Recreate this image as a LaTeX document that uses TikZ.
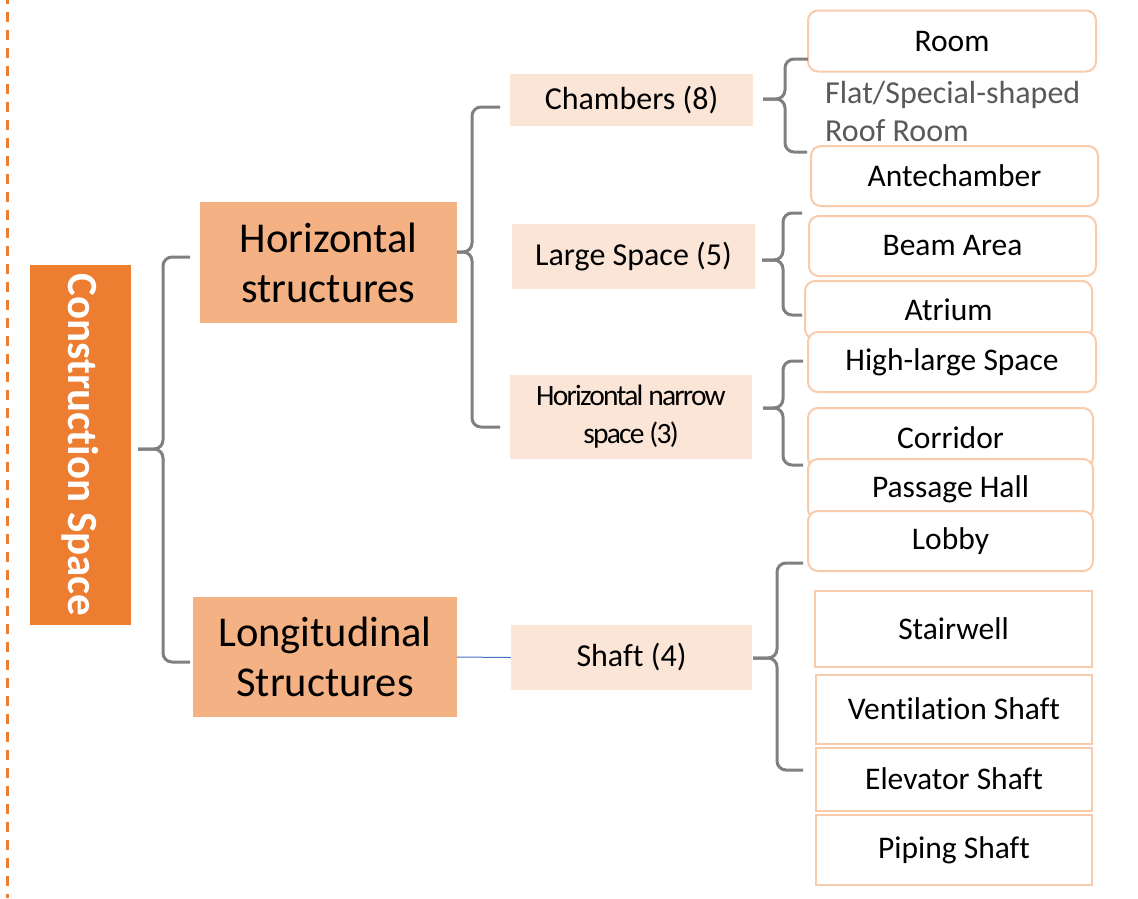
\documentclass[tikz,border=0pt]{standalone}
\usepackage{fontspec}
\setmainfont{Carlito}[Ligatures=NoCommon]
\definecolor{orangeA}{HTML}{ED7D31}
\definecolor{orangeB}{HTML}{F4B183}
\definecolor{orangeC}{HTML}{FBE5D6}
\definecolor{orangeL}{HTML}{F8CBAD}
\definecolor{braceg}{HTML}{808080}
\definecolor{txtg}{HTML}{595959}
\definecolor{blueL}{HTML}{4472C4}
\newcommand{\cbrace}[4]{%
  \draw[brace] (#3) -- (#2 |- #3) -- (#2 |- #1) -- (#1);
  \draw[brace] (#4) -- (#2 |- #4) -- (#2 |- #1) -- (#1);
}
\tikzset{
  root/.style={fill=orangeA, inner sep=0pt},
  lvlone/.style={fill=orangeB, inner sep=0pt, align=center, font=\fontsize{42.5}{50}\selectfont},
  lvltwo/.style={fill=orangeC, inner sep=0pt, align=center, font=\fontsize{32}{38}\selectfont},
  leafr/.style={draw=orangeL, line width=2pt, rounded corners=10pt, fill=white, inner sep=0pt, font=\fontsize{31.5}{38}\selectfont},
  leafs/.style={draw=orangeL, line width=2pt, fill=white, inner sep=0pt, font=\fontsize{31.5}{38}\selectfont},
  brace/.style={draw=braceg, line width=3pt, rounded corners=9pt},
}
\begin{document}
\begin{tikzpicture}[x=1pt,y=-1pt]
\useasboundingbox (0,0) rectangle (1138,898);
\fill[white] (0,0) rectangle (1138,898);
% dashed guide line
\coordinate (dtop) at (7.5,-6);
\coordinate (dbot) at (7.5,898);
\draw[orangeA, line width=2.5pt, dash pattern=on 10pt off 8pt] (dtop) -- (dbot);

% root
\node[root, minimum width=101pt, minimum height=360pt] (cs) at (80.5,445) {};
\node[text=white, inner sep=0pt, font=\bfseries\fontsize{43}{48}\selectfont, rotate=-90] (cstxt) at (cs.center) {Construction Space};

% level one
\node[lvlone, minimum width=257pt, minimum height=121pt] (hs) at (328.5,262.5) {Horizontal\\structures};
\node[lvlone, minimum width=264pt, minimum height=120pt] (ls) at (325,657) {Longitudinal\\Structures};

% level two
\node[lvltwo, minimum width=243pt, minimum height=52pt] (ch) at (631.5,100) {Chambers (8)};
\node[lvltwo, minimum width=243pt, minimum height=65pt] (lsp) at (633.5,256.5) {Large Space (5)};
\node[lvltwo, minimum width=242pt, minimum height=84pt, font=\fontsize{29.5}{38}\selectfont\addfontfeature{LetterSpace=-6}] (hn) at (631,417) {Horizontal narrow\\space (3)};
\node[lvltwo, minimum width=241pt, minimum height=65pt] (sh) at (631.5,657.5) {Shaft (4)};

% leaves
\node[leafr, minimum width=288pt, minimum height=61pt] (room) at (952,41) {Room};
\node[anchor=west, align=left, text=txtg, inner sep=0pt, font=\fontsize{32}{38}\selectfont] (flat) at (825,111) {Flat/Special-shaped\\Roof Room};
\node[leafr, minimum width=287pt, minimum height=60pt] (ante) at (954.5,176) {Antechamber};
\node[leafr, minimum width=287pt, minimum height=60pt] (beam) at (952.5,246) {Beam Area};
\node[leafr, minimum width=287pt, minimum height=58pt] (atrium) at (948.5,310) {Atrium};
\node[leafr, minimum width=288pt, minimum height=60pt] (high) at (952,362) {High-large Space};
\node[leafr, minimum width=285pt, minimum height=60pt] (corr) at (950.5,438) {Corridor};
\node[leafr, minimum width=285pt, minimum height=60pt] (pass) at (950.5,489) {Passage Hall};
\node[leafr, minimum width=285pt, minimum height=60pt] (lobby) at (950.5,541) {Lobby};
\node[leafs, minimum width=277pt, minimum height=76pt] (stair) at (953.5,629) {Stairwell};
\node[leafs, minimum width=276pt, minimum height=69pt] (vent) at (954,709) {Ventilation Shaft};
\node[leafs, minimum width=276pt, minimum height=63pt] (elev) at (954,779) {Elevator Shaft};
\node[leafs, minimum width=276pt, minimum height=70pt] (pipe) at (954,850) {Piping Shaft};

% brace coordinates
\coordinate (t1) at (138,449); \coordinate (v1) at (163,449);
\coordinate (a1) at (190,257); \coordinate (z1) at (190,662);
\coordinate (t2) at (457,252); \coordinate (v2) at (472,252);
\coordinate (a2) at (500,107); \coordinate (z2) at (500,427);
\coordinate (t3) at (763,99);  \coordinate (v3) at (785,99);
\coordinate (a3) at (808,59);  \coordinate (z3) at (807,152);
\coordinate (t4) at (762,260); \coordinate (v4) at (783,260);
\coordinate (a4) at (802,213); \coordinate (z4) at (802,315);
\coordinate (t5) at (763,408); \coordinate (v5) at (783,408);
\coordinate (a5) at (803,361); \coordinate (z5) at (803,465);
\coordinate (t6) at (753,658); \coordinate (v6) at (777,658);
\coordinate (a6) at (803,563); \coordinate (z6) at (803,770);

\cbrace{t1}{v1}{a1}{z1}
\cbrace{t2}{v2}{a2}{z2}
\cbrace{t3}{v3}{a3}{z3}
\cbrace{t4}{v4}{a4}{z4}
\cbrace{t5}{v5}{a5}{z5}
\cbrace{t6}{v6}{a6}{z6}

\draw[blueL, line width=1pt] (ls.east) -- (sh.west);
\end{tikzpicture}
\end{document}
